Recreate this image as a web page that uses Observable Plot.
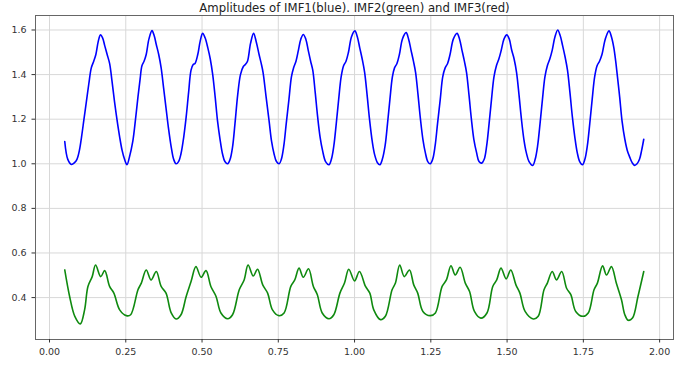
<!DOCTYPE html>
<html>
<head>
<meta charset="utf-8">
<script src="https://cdn.jsdelivr.net/npm/d3@7"></script>
<script src="https://cdn.jsdelivr.net/npm/@observablehq/plot@0.6"></script>
<style>
  html, body { margin: 0; padding: 0; background: #fff; }
  #chart svg { display: block; }
</style>
</head>
<body>
<div id="chart"></div>
<script>
const title = "Amplitudes of IMF1(blue). IMF2(green) and IMF3(red)";
const xTicks = [0, 0.25, 0.5, 0.75, 1.0, 1.25, 1.5, 1.75, 2.0];
const yTicks = [0.4, 0.6, 0.8, 1.0, 1.2, 1.4, 1.6];

// IMF1 amplitude (blue)
const imf1X = [0.050,0.060,0.072,0.082,0.090,0.098,0.105,0.113,0.121,0.129,0.137,0.145,0.152,0.160,0.167,0.174,0.181,0.189,0.197,0.205,0.213,0.221,0.230,0.238,0.246,
0.254,0.262,0.273,0.282,0.290,0.297,0.303,0.310,0.317,0.326,0.336,0.343,0.350,0.358,0.366,0.374,0.382,0.390,0.399,0.407,
0.415,0.423,0.431,0.440,0.448,0.456,0.464,0.471,0.477,0.486,0.494,0.502,0.510,0.519,0.527,0.535,0.543,0.551,0.559,0.567,0.575,
0.584,0.592,0.600,0.608,0.617,0.626,0.635,0.642,0.649,0.659,0.669,0.678,0.687,0.694,0.700,0.710,0.720,0.728,0.736,0.744,
0.753,0.760,0.768,0.776,0.785,0.793,0.800,0.808,0.816,0.824,0.832,0.840,0.848,0.856,0.863,0.871,0.879,0.887,0.895,0.905,
0.916,0.924,0.932,0.940,0.948,0.956,0.964,0.972,0.980,0.990,1.001,1.009,1.017,1.025,1.033,1.041,1.049,1.058,1.066,1.075,
1.083,1.091,1.100,1.108,1.116,1.124,1.131,1.139,1.147,1.157,1.169,1.177,1.185,1.193,1.200,1.208,1.216,1.224,1.232,1.240,
1.248,1.256,1.264,1.272,1.281,1.289,1.297,1.305,1.313,1.324,1.336,1.344,1.352,1.360,1.367,1.375,1.383,1.391,1.400,1.408,
1.417,1.425,1.433,1.441,1.449,1.457,1.465,1.473,1.481,1.490,1.499,1.507,1.515,1.523,1.531,1.539,1.547,1.555,1.563,1.572,
1.584,1.592,1.600,1.608,1.616,1.624,1.632,1.640,1.648,1.657,1.666,1.674,1.682,1.690,1.698,1.706,1.714,1.722,1.730,1.738,
1.747,1.755,1.763,1.771,1.779,1.787,1.795,1.803,1.811,1.822,1.834,1.842,1.850,1.856,1.861,1.869,1.877,1.886,1.894,1.902,1.910,
1.918,1.926,1.934,1.941,1.948];
const imf1Y = [1.10,1.02,0.997,1.005,1.02,1.06,1.12,1.20,1.28,1.36,1.43,1.46,1.49,1.55,1.578,1.565,1.53,1.49,1.45,1.37,1.28,1.20,1.12,1.06,1.02,
0.996,1.03,1.10,1.20,1.30,1.38,1.44,1.46,1.49,1.56,1.597,1.575,1.535,1.49,1.43,1.34,1.25,1.16,1.075,1.02,
1.0,1.01,1.045,1.12,1.21,1.32,1.42,1.445,1.45,1.49,1.55,1.585,1.565,1.52,1.47,1.40,1.30,1.19,1.11,1.045,1.01,
1.0,1.02,1.075,1.18,1.31,1.40,1.435,1.445,1.46,1.54,1.585,1.545,1.49,1.45,1.41,1.30,1.19,1.10,1.045,1.01,
1.0,1.02,1.08,1.18,1.29,1.39,1.43,1.46,1.51,1.56,1.58,1.56,1.51,1.46,1.42,1.32,1.21,1.12,1.06,1.01,
0.996,1.02,1.08,1.18,1.29,1.39,1.44,1.46,1.50,1.57,1.596,1.57,1.52,1.47,1.41,1.31,1.20,1.10,1.04,1.005,
0.996,1.02,1.08,1.18,1.29,1.39,1.43,1.45,1.49,1.56,1.588,1.56,1.51,1.46,1.41,1.31,1.20,1.11,1.05,1.01,
1.0,1.02,1.08,1.18,1.29,1.39,1.43,1.45,1.49,1.56,1.585,1.56,1.51,1.46,1.41,1.31,1.20,1.11,1.05,1.01,
1.003,1.02,1.08,1.18,1.29,1.39,1.44,1.47,1.51,1.56,1.578,1.56,1.51,1.47,1.41,1.31,1.20,1.11,1.05,1.01,
0.993,1.02,1.08,1.18,1.29,1.39,1.44,1.47,1.51,1.57,1.60,1.575,1.53,1.48,1.42,1.32,1.21,1.12,1.05,1.01,
0.996,1.02,1.08,1.18,1.29,1.39,1.44,1.46,1.49,1.56,1.596,1.57,1.52,1.46,1.40,1.30,1.19,1.11,1.06,1.03,1.005,
0.993,1.00,1.02,1.06,1.11];

// IMF2 amplitude (green)
const imf2X = [0.050,0.066,0.083,0.101,0.115,0.126,0.140,0.151,0.168,0.181,0.197,0.211,0.230,0.252,0.266,0.290,0.301,0.317,0.333,0.350,0.366,0.382,0.399,
0.415,0.431,0.448,0.464,0.480,0.497,0.513,0.529,0.546,0.562,0.584,0.600,0.622,0.638,0.651,0.668,0.682,0.699,0.715,0.731,
0.752,0.769,0.791,0.804,0.818,0.832,0.849,0.865,0.878,0.894,0.916,0.932,0.952,0.967,0.981,1.000,1.016,1.036,1.050,1.063,
1.085,1.101,1.123,1.134,1.148,1.163,1.180,1.194,1.207,1.224,1.248,1.265,1.287,1.301,1.316,1.330,1.346,1.363,1.377,1.393,
1.414,1.434,1.453,1.466,1.480,1.497,1.512,1.529,1.542,1.559,1.586,1.602,1.621,1.632,1.648,1.662,1.679,1.695,1.709,1.725,
1.749,1.766,1.785,1.796,1.813,1.826,1.842,1.858,1.875,1.886,1.897,1.911,1.929,1.948];
const imf2Y = [0.524,0.405,0.316,0.282,0.345,0.450,0.494,0.546,0.494,0.521,0.450,0.420,0.345,0.319,0.323,0.435,0.465,0.524,0.479,0.517,0.450,0.420,0.331,
0.304,0.323,0.405,0.472,0.539,0.491,0.521,0.450,0.405,0.331,0.305,0.323,0.435,0.479,0.546,0.497,0.527,0.457,0.420,0.345,
0.319,0.331,0.450,0.479,0.532,0.491,0.529,0.450,0.413,0.331,0.305,0.323,0.420,0.465,0.527,0.475,0.517,0.450,0.420,0.345,
0.301,0.316,0.435,0.465,0.546,0.494,0.524,0.457,0.420,0.338,0.319,0.331,0.450,0.479,0.543,0.501,0.536,0.465,0.427,0.338,
0.308,0.331,0.450,0.479,0.532,0.484,0.524,0.457,0.420,0.338,0.304,0.316,0.435,0.465,0.517,0.479,0.517,0.442,0.413,0.338,
0.316,0.331,0.435,0.465,0.542,0.501,0.539,0.465,0.390,0.323,0.298,0.308,0.405,0.517];

const imf1 = imf1X.map((x, i) => ({x, y: imf1Y[i]}));
const imf2 = imf2X.map((x, i) => ({x, y: imf2Y[i]}));

const chart = Plot.plot({
  width: 692,
  height: 366,
  marginLeft: 35,
  marginRight: 19,
  marginTop: 15,
  marginBottom: 27,
  style: {fontFamily: "DejaVu Sans, sans-serif", fontSize: "9.5px", color: "#333", background: "#fff"},
  x: {domain: [-0.0459, 2.0455], ticks: xTicks, tickFormat: d3.format(".2f"), label: null, tickSize: 3.5, tickPadding: 3},
  y: {domain: [0.212, 1.665], ticks: yTicks, tickFormat: d3.format(".1f"), label: null, tickSize: 3.5, tickPadding: 2},
  marks: [
    Plot.gridX(xTicks, {stroke: "#d8d8d8", strokeOpacity: 1, strokeWidth: 1}),
    Plot.gridY(yTicks, {stroke: "#d8d8d8", strokeOpacity: 1, strokeWidth: 1}),
    Plot.line(imf1, {x: "x", y: "y", stroke: "#0000ff", strokeWidth: 1.6, curve: "catmull-rom"}),
    Plot.line(imf2, {x: "x", y: "y", stroke: "#0f8a0f", strokeWidth: 1.6, curve: "catmull-rom"}),
    Plot.frame({stroke: "#666", strokeWidth: 1}),
    Plot.axisX(xTicks, {tickSize: 3.5, tickFormat: d3.format(".2f"), label: null, stroke: "#333", fill: "#333"}),
    Plot.axisY(yTicks, {tickSize: 3.5, tickFormat: d3.format(".1f"), label: null, stroke: "#333", fill: "#333"}),
    Plot.text([title], {frameAnchor: "top", dy: -4, fontSize: 13, fontFamily: "DejaVu Sans Condensed, DejaVu Sans, sans-serif", fontStretch: "condensed", fill: "#222", lineAnchor: "bottom"})
  ]
});
document.getElementById("chart").appendChild(chart);
</script>
</body>
</html>
